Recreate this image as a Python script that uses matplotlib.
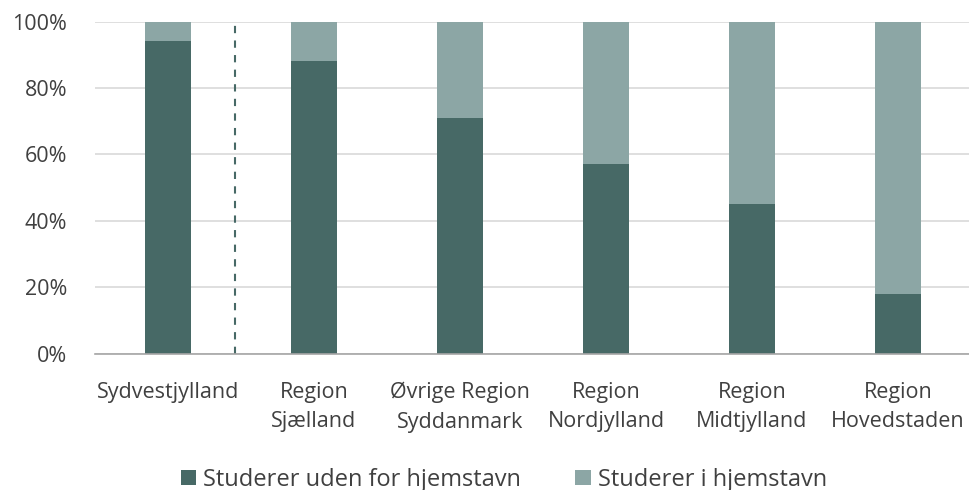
import matplotlib.pyplot as plt
from matplotlib.ticker import PercentFormatter

plt.rcParams['font.family'] = ['Open Sans', 'DejaVu Sans']

# Data
categories = ["Sydvestjylland", "Region\nSjælland", "Øvrige Region\nSyddanmark",
              "Region\nNordjylland", "Region\nMidtjylland", "Region\nHovedstaden"]
uden_for = [94, 88, 71, 57, 45, 18]
i_hjemstavn = [100 - v for v in uden_for]

dark = "#476966"
light = "#8ca6a5"

fig = plt.figure(figsize=(9.69, 4.9), dpi=100)
ax = fig.add_axes([0.098, 0.278, 0.904, 0.678])

x = list(range(len(categories)))
ax.bar(x, uden_for, width=0.315, color=dark, label="Studerer uden for hjemstavn", zorder=3)
ax.bar(x, i_hjemstavn, width=0.315, bottom=uden_for, color=light,
       label="Studerer i hjemstavn", zorder=3)

# dashed separator after the first bar
ax.plot([0.46, 0.46], [0, 100], color=dark, linestyle=(0, (3.5, 3.5)), linewidth=1.5, zorder=4)

ax.set_xlim(-0.5, 5.5)
ax.set_ylim(0, 100)
ax.set_yticks(range(0, 101, 20))
ax.yaxis.set_major_formatter(PercentFormatter(decimals=0))
ax.set_xticks(x)
ax.set_xticklabels(categories, linespacing=1.55)
ax.tick_params(axis="both", length=0, labelsize=15.5, labelcolor="#404040")
ax.tick_params(axis="x", pad=20)
ax.tick_params(axis="y", pad=20)

ax.grid(axis="y", color="#d9d9d9", linewidth=1.2, zorder=0)
for s in ["top", "right", "left"]:
    ax.spines[s].set_visible(False)
ax.spines["bottom"].set_color("#a6a6a6")
ax.spines["bottom"].set_linewidth(1.2)
ax.spines["bottom"].set_zorder(5)

fig.legend(loc="lower center", bbox_to_anchor=(0.52, -0.047), ncol=2, frameon=False,
           fontsize=17, handlelength=0.65, handleheight=0.65, handletextpad=0.3,
           columnspacing=2.3, labelcolor="#404040")

fig.savefig("out.png", dpi=100)
